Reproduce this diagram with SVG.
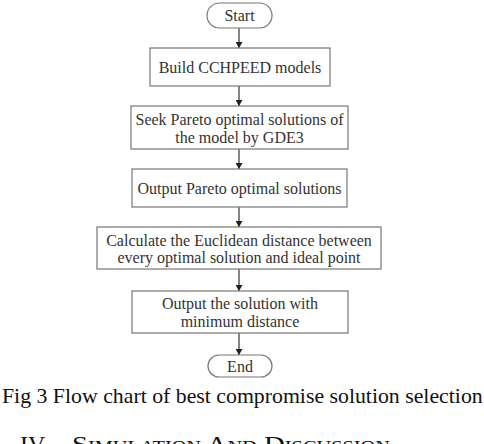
<svg xmlns="http://www.w3.org/2000/svg" width="484" height="444" viewBox="0 0 484 444">
<style>
.box{fill:#fff;stroke:#777;stroke-width:1.2}
.t{font-family:"Liberation Serif","Times New Roman",serif;font-size:16px;fill:#333;text-anchor:middle}
.cap{font-family:"Liberation Serif","Times New Roman",serif;font-size:21.8px;fill:#111}
.c{stroke:#333;stroke-width:1.2;fill:none;marker-end:url(#ah)}
</style>
<defs>
<marker id="ah" markerWidth="6" markerHeight="7" refX="6" refY="3.5" orient="auto" markerUnits="userSpaceOnUse">
<path d="M0,0 L6,3.5 L0,7 Z" fill="#222"/>
</marker>
</defs>
<rect width="484" height="444" fill="#fff"/>
<g id="connectors">
<line class="c" x1="239" y1="28" x2="239" y2="48"/>
<line class="c" x1="239" y1="86" x2="239" y2="106"/>
<line class="c" x1="239" y1="149" x2="239" y2="169"/>
<line class="c" x1="239" y1="207" x2="239" y2="227"/>
<line class="c" x1="239" y1="269" x2="239" y2="291"/>
<line class="c" x1="239" y1="333" x2="239" y2="355"/>
</g>
<g id="start">
<rect class="box" x="207" y="3" width="65" height="25" rx="12.5"/>
<text class="t" x="239.5" y="21">Start</text>
</g>
<g id="build">
<rect class="box" x="150" y="48" width="180" height="38"/>
<text class="t" x="240" y="72.5">Build CCHPEED models</text>
</g>
<g id="seek">
<rect class="box" x="131" y="106" width="217" height="43"/>
<text class="t" x="239.5" y="124.5">Seek Pareto optimal solutions of</text>
<text class="t" x="239.5" y="142.5">the model by GDE3</text>
</g>
<g id="outpareto">
<rect class="box" x="132" y="169" width="215" height="38"/>
<text class="t" x="239.5" y="193.5">Output Pareto optimal solutions</text>
</g>
<g id="calc">
<rect class="box" x="97" y="227" width="284" height="42"/>
<text class="t" x="239" y="245.5">Calculate the Euclidean distance between</text>
<text class="t" x="239" y="263">every optimal solution and ideal point</text>
</g>
<g id="outsol">
<rect class="box" x="132" y="291" width="216" height="42"/>
<text class="t" x="240" y="308.5">Output the solution with</text>
<text class="t" x="240" y="327">minimum distance</text>
</g>
<g id="end">
<rect class="box" x="208" y="355" width="64" height="22" rx="11"/>
<text class="t" x="240" y="372">End</text>
</g>
<text class="cap" x="2" y="403">Fig 3 Flow chart of best compromise solution selection</text>
<text class="cap" x="20" y="452" style="font-size:24px;font-variant:small-caps">IV.<tspan x="72" textLength="318" lengthAdjust="spacingAndGlyphs">Simulation And Discussion</tspan></text>
</svg>
